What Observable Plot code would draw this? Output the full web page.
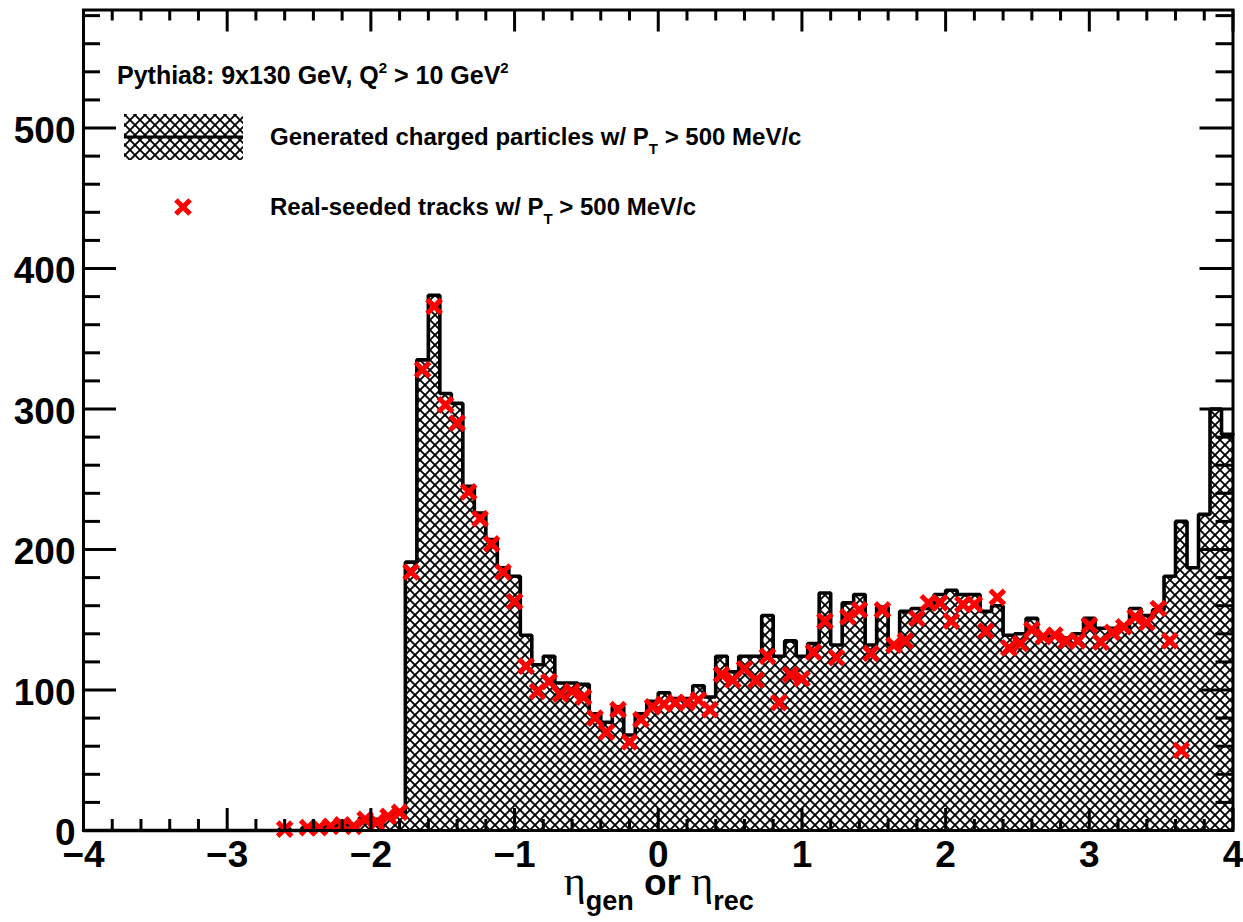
<!DOCTYPE html>
<html><head><meta charset="utf-8">
<script src="https://cdn.jsdelivr.net/npm/d3@7"></script>
<script src="https://cdn.jsdelivr.net/npm/@observablehq/plot@0.6"></script>
<style>body{margin:0;background:#fff}svg{display:block}</style>
</head><body><div id="chart"></div>
<script>
// ---- binning (100 bins of 0.08 in eta, from -4 to 4)
const etaMin = -4, etaMax = 4, binWidth = 0.08;

// ---- generated charged particles (histogram contents, per bin)
const generated = [
  0,0,0,0,0,0,0,0,0,0,
  0,0,0,0,0,0,0,1,0,2,
  2,3,4,4,9,8,10,13,191,335,
  381,311,304,245,226,207,187,181,139,118,
  124,105,105,104,83,77,88,68,83,92,
  98,94,94,103,95,124,113,124,124,153,
  124,135,124,133,169,132,162,168,132,159,
  132,156,158,158,168,171,168,168,156,160,
  139,140,151,139,138,137,140,151,144,144,
  144,158,153,157,181,220,187,225,300,282
];

// ---- real-seeded tracks (markers, per bin; null = empty bin)
const realSeeded = [
  null,null,null,null,null,null,null,null,null,null,
  null,null,null,null,null,null,null,1,null,2,
  2,3,4,3,8,6,10,13,184,328,
  373,303,290,241,222,204,184,163,117,99,
  106,97,99,95,80,70,86,63,79,88,
  90,91,91,93,86,111,107,115,107,124,
  91,111,108,127,149,123,152,157,126,157,
  132,135,151,162,162,149,161,161,142,166,
  130,133,143,138,139,135,135,146,134,141,
  145,152,148,158,135,57,null,null,null,null
];

const xMajorTicks = [-4,-3,-2,-1,0,1,2,3,4];
const yMajorTicks = [0,100,200,300,400,500];
const xMinorStep = 0.2, yMinorStep = 20;
const yMax = 584;

const legendTitle = "Pythia8: 9x130 GeV, Q";
const legendGen = "Generated charged particles w/ P";
const legendReco = "Real-seeded tracks w/ P";

// ---- derived tables
const steps = [];
generated.forEach((v, i) => {
  const x0 = +(etaMin + i * binWidth).toFixed(4);
  const x1 = +(etaMin + (i + 1) * binWidth).toFixed(4);
  steps.push({x: x0, y: v}, {x: x1, y: v});
});
const points = realSeeded
  .map((v, i) => ({x: etaMin + (i + 0.5) * binWidth, y: v}))
  .filter(d => d.y !== null);

const xMinor = d3.range(etaMin, etaMax + 1e-9, xMinorStep).map(v => +v.toFixed(2))
  .filter(v => !xMajorTicks.some(t => Math.abs(t - v) < 1e-6));
const yMinor = d3.range(0, yMax, yMinorStep).filter(v => v % 100 !== 0);

const W = 1243, H = 922;
const mL = 83, mR = 10.5, mT = 9.5, mB = 92;
const iW = W - mL - mR, iH = H - mT - mB;
const xMajLen = 22, xMinLen = 11, yMajLen = 33, yMinLen = 17;
const tickStyle = {stroke: "black", strokeWidth: 3};
const font = "'Liberation Sans', Arial, Helvetica, sans-serif";

const chart = Plot.plot({
  width: W, height: H,
  marginLeft: mL, marginRight: mR, marginTop: mT, marginBottom: mB,
  style: {fontFamily: font, background: "white"},
  x: {domain: [etaMin, etaMax]},
  y: {domain: [0, yMax]},
  marks: [
    Plot.areaY(steps, {x: "x", y1: 0, y2: "y", fill: "url(#hatch)", curve: "linear"}),
    Plot.lineY(steps, {x: "x", y: "y", stroke: "black", strokeWidth: 3.6, strokeLinejoin: "miter", curve: "linear"}),
    Plot.dot(points, {x: "x", y: "y", symbol: "times", r: 6.5, stroke: "#ff0000", strokeWidth: 5}),
    // ticks on all four sides (inward)
    Plot.ruleX(xMajorTicks, {x: d => d, insetTop: iH - xMajLen, ...tickStyle}),
    Plot.ruleX(xMinor, {x: d => d, insetTop: iH - xMinLen, ...tickStyle}),
    Plot.ruleX(xMajorTicks, {x: d => d, insetBottom: iH - xMajLen, ...tickStyle}),
    Plot.ruleX(xMinor, {x: d => d, insetBottom: iH - xMinLen, ...tickStyle}),
    Plot.ruleY(yMajorTicks, {y: d => d, insetRight: iW - yMajLen, ...tickStyle}),
    Plot.ruleY(yMinor, {y: d => d, insetRight: iW - yMinLen, ...tickStyle}),
    Plot.ruleY(yMajorTicks, {y: d => d, insetLeft: iW - yMajLen, ...tickStyle}),
    Plot.ruleY(yMinor, {y: d => d, insetLeft: iW - yMinLen, ...tickStyle}),
    Plot.frame({stroke: "black", strokeWidth: 3}),
    Plot.axisX({ticks: xMajorTicks, tickSize: 0, tickPadding: 10, label: null,
      fontSize: 37, fontWeight: "bold", fill: "black"}),
    Plot.axisY({ticks: yMajorTicks, tickSize: 0, tickPadding: 8, label: null, dy: 3,
      fontSize: 37, fontWeight: "bold", fill: "black"})
  ]
});

const svg = d3.select(chart);
const defs = svg.insert("defs", ":first-child");
const pat = defs.append("pattern").attr("id", "hatch")
  .attr("patternUnits", "userSpaceOnUse").attr("width", 10).attr("height", 10);
pat.append("path").attr("d", "M-1,1 l2,-2 M0,10 l10,-10 M9,11 l2,-2")
  .attr("stroke", "black").attr("stroke-width", 1.8);
pat.append("path").attr("d", "M-1,9 l2,2 M0,0 l10,10 M9,-1 l2,2")
  .attr("stroke", "black").attr("stroke-width", 1.8);

// x-axis title
const xt = svg.append("text").attr("x", mL + iW / 2 + 1).attr("y", 895)
  .attr("text-anchor", "middle").attr("fill", "black").style("font-family", font);
xt.append("tspan").style("font-family", "'Liberation Serif', serif").attr("font-size", 42).text("η");
xt.append("tspan").attr("font-size", 27).attr("font-weight", "bold").attr("dy", 15).text("gen");
xt.append("tspan").attr("font-size", 37).attr("font-weight", "bold").attr("dy", -15).text(" or ");
xt.append("tspan").style("font-family", "'Liberation Serif', serif").attr("font-size", 42).text("η");
xt.append("tspan").attr("font-size", 27).attr("font-weight", "bold").attr("dy", 15).text("rec");

// legend
const lg = svg.append("g").style("font-family", font).attr("font-weight", "bold")
  .attr("fill", "black").attr("text-anchor", "start");
const t1 = lg.append("text").attr("x", 117).attr("y", 84).attr("font-size", 25);
t1.append("tspan").text(legendTitle);
t1.append("tspan").attr("font-size", 15).attr("dy", -11).text("2");
t1.append("tspan").attr("dy", 11).text(" > 10 GeV");
t1.append("tspan").attr("font-size", 15).attr("dy", -11).text("2");

lg.append("rect").attr("x", 124).attr("y", 114).attr("width", 119).attr("height", 46).attr("fill", "url(#hatch)");
lg.append("line").attr("x1", 124).attr("x2", 243).attr("y1", 137).attr("y2", 137)
  .attr("stroke", "black").attr("stroke-width", 3);
const t2 = lg.append("text").attr("x", 270).attr("y", 145).attr("font-size", 24);
t2.append("tspan").text(legendGen);
t2.append("tspan").attr("font-size", 15).attr("dy", 9).text("T");
t2.append("tspan").attr("dy", -9).text(" > 500 MeV/c");

lg.append("path").attr("transform", "translate(183,207)")
  .attr("d", d3.symbol(d3.symbolTimes, Math.PI * 6.5 * 6.5)())
  .attr("fill", "none").attr("stroke", "#ff0000").attr("stroke-width", 5);
const t3 = lg.append("text").attr("x", 270).attr("y", 215).attr("font-size", 24);
t3.append("tspan").text(legendReco);
t3.append("tspan").attr("font-size", 15).attr("dy", 9).text("T");
t3.append("tspan").attr("dy", -9).text(" > 500 MeV/c");

document.getElementById("chart").appendChild(chart);
</script>
</body></html>
